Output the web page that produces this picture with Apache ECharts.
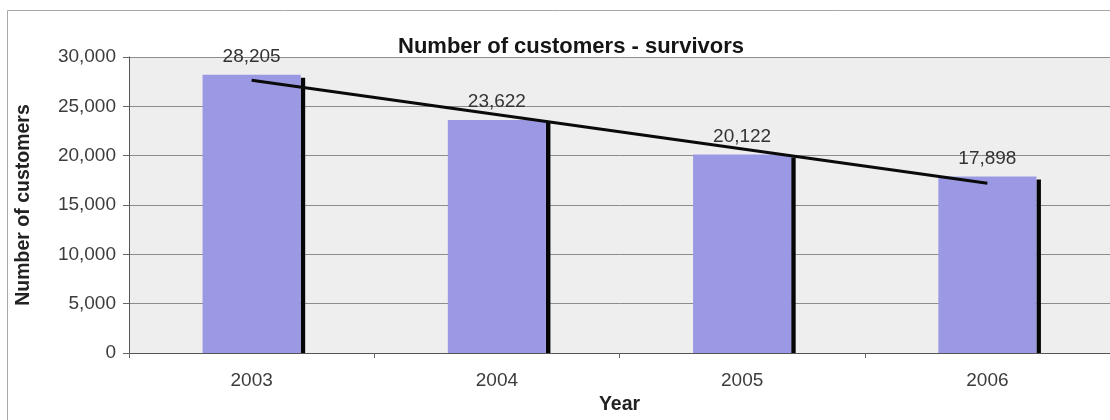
<!DOCTYPE html>
<html>
<head>
<meta charset="utf-8">
<script src="https://cdn.jsdelivr.net/npm/echarts@6/dist/echarts.min.js"></script>
<style>
  html, body { margin: 0; padding: 0; background: #ffffff; }
  #chart { width: 1110px; height: 420px; }
</style>
</head>
<body>
<div id="chart"></div>
<script>
// Customers remaining in each year
const years = ['2003', '2004', '2005', '2006'];
const customers = [28205, 23622, 20122, 17898];
// Linear trend line: value at the first and at the last year
const trendYears = [0, 3];
const trendValues = [27650, 17200];
// Value axis range and step
const yMin = 0;
const yMax = 30000;
const yStep = 5000;

const FONT = '"Liberation Sans", Arial, sans-serif';
const fmt = v => Number(v).toLocaleString('en-US');

const chart = echarts.init(document.getElementById('chart'), null, { renderer: 'canvas' });

chart.setOption({
  animation: false,
  backgroundColor: '#ffffff',
  textStyle: { fontFamily: FONT },
  title: {
    text: 'Number of customers - survivors',
    left: 566,
    textAlign: 'center',
    top: 31,
    textStyle: { fontFamily: FONT, fontSize: 22, fontWeight: 'bold', color: '#151515' }
  },
  graphic: [{
    type: 'rect',
    shape: { x: 7.5, y: 10.5, width: 1200, height: 500 },
    style: { fill: 'none', stroke: '#a8a8a8', lineWidth: 1 },
    silent: true,
    z: -1
  }],
  grid: {
    left: 129, right: 0, top: 57, bottom: 65,
    show: true,
    backgroundColor: '#eeeeef',
    borderWidth: 0
  },
  xAxis: {
    type: 'category',
    data: years,
    boundaryGap: true,
    axisLine: { show: true, lineStyle: { color: '#555555', width: 1 } },
    axisTick: { show: true, length: 5, lineStyle: { color: '#666666' } },
    axisLabel: { fontFamily: FONT, fontSize: 19, color: '#3c3c3c', margin: 18 },
    name: 'Year',
    nameLocation: 'middle',
    nameGap: 42,
    nameTextStyle: { fontFamily: FONT, fontSize: 19.5, fontWeight: 'bold', color: '#222222' }
  },
  yAxis: {
    type: 'value',
    min: yMin,
    max: yMax,
    interval: yStep,
    axisLine: { show: true, lineStyle: { color: '#555555', width: 1 } },
    axisTick: { show: true, length: 6, lineStyle: { color: '#666666' } },
    axisLabel: { fontFamily: FONT, fontSize: 19, color: '#3c3c3c', margin: 13, formatter: fmt },
    splitLine: { show: true, lineStyle: { color: '#8c8c8c', width: 1 } },
    name: 'Number of customers',
    nameLocation: 'middle',
    nameGap: 95,
    nameRotate: 90,
    nameTextStyle: { fontFamily: FONT, fontSize: 19.5, fontWeight: 'bold', color: '#222222' }
  },
  series: [
    {
      type: 'bar',
      data: customers,
      barWidth: '40%',
      itemStyle: { color: '#9b99e3' },
      label: {
        show: true,
        position: 'top',
        distance: 8.5,
        fontFamily: FONT,
        fontSize: 19,
        color: '#333333',
        formatter: p => fmt(p.value)
      },
      z: 2
    },
    {
      // dark edge drawn along the right side of every bar
      type: 'custom',
      data: customers.map((v, i) => [i, v]),
      renderItem: function (params, api) {
        const top = api.coord([api.value(0), api.value(1)]);
        const base = api.coord([api.value(0), 0]);
        const band = api.size([1, 0])[0];
        const half = band * 0.2;
        return {
          type: 'rect',
          shape: { x: top[0] + half, y: top[1] + 3, width: 4.5, height: base[1] - top[1] - 3 },
          style: { fill: '#050505' }
        };
      },
      z: 2
    },
    {
      type: 'line',
      data: trendYears.map((x, i) => [x, trendValues[i]]),
      symbol: 'none',
      lineStyle: { color: '#0a0a0a', width: 3 },
      z: 3
    }
  ]
});
</script>
</body>
</html>
